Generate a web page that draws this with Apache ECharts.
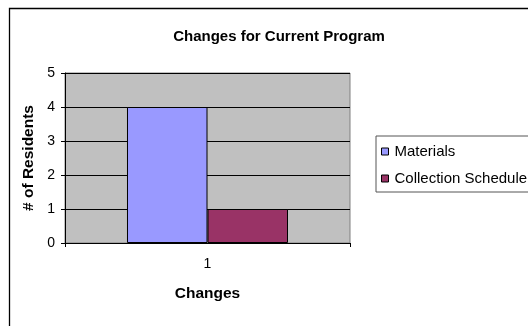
<!DOCTYPE html>
<html>
<head>
<meta charset="utf-8">
<style>
  html, body { margin: 0; padding: 0; background: #ffffff; }
  #chart { width: 528px; height: 326px; }
</style>
<script src="https://cdn.jsdelivr.net/npm/echarts@6/dist/echarts.min.js"></script>
</head>
<body>
<div id="chart"></div>
<script>
// Chart data
const categories = ['1'];
const seriesNames = ['Materials', 'Collection Schedule'];
const materialsValues = [4];
const collectionValues = [1];
const yTicks = { min: 0, max: 5, interval: 1 };

const FONT = '"Liberation Sans", Arial, sans-serif';

const chart = echarts.init(document.getElementById('chart'), null, { renderer: 'canvas' });

chart.setOption({
  animation: false,
  backgroundColor: '#ffffff',
  textStyle: { fontFamily: FONT, color: '#000' },
  graphic: [
    {
      // outer chart frame (runs off the right and bottom edges)
      type: 'rect',
      shape: { x: 9.5, y: 8.5, width: 560, height: 360 },
      style: { fill: 'none', stroke: '#000', lineWidth: 1.3 },
      z: -1
    }
  ],
  title: {
    text: 'Changes for Current Program',
    left: 274,
    top: 24,
    textAlign: 'center',
    textStyle: { fontFamily: FONT, fontSize: 15, fontWeight: 'bold', color: '#000' }
  },
  legend: {
    orient: 'vertical',
    left: 376,
    top: 136,
    padding: [7, 30, 5, 5],
    itemGap: 10,
    itemWidth: 7,
    itemHeight: 7,
    icon: 'rect',
    borderColor: '#555',
    borderWidth: 1,
    backgroundColor: '#fff',
    textStyle: { fontFamily: FONT, fontSize: 15, color: '#000', lineHeight: 17, padding: [0, 0, 0, 1] },
    itemStyle: { borderColor: '#000', borderWidth: 1 },
    data: seriesNames
  },
  grid: {
    left: 65,
    top: 73,
    right: 178,
    bottom: 83,
    show: true,
    backgroundColor: '#C0C0C0',
    borderColor: '#808080',
    borderWidth: 1
  },
  xAxis: {
    type: 'category',
    data: categories,
    name: 'Changes',
    nameLocation: 'middle',
    nameGap: 43,
    nameTextStyle: { fontFamily: FONT, fontSize: 15.5, fontWeight: 'bold', color: '#000' },
    axisLine: { show: true, lineStyle: { color: '#000', width: 1 } },
    axisTick: { show: true, length: 4, alignWithLabel: false, lineStyle: { color: '#000' } },
    axisLabel: { fontFamily: FONT, fontSize: 14, color: '#000', margin: 14 }
  },
  yAxis: {
    type: 'value',
    min: yTicks.min,
    max: yTicks.max,
    interval: yTicks.interval,
    name: '# of Residents',
    nameLocation: 'middle',
    nameGap: 26,
    nameRotate: 90,
    nameTextStyle: { fontFamily: FONT, fontSize: 15.5, fontWeight: 'bold', color: '#000' },
    axisLine: { show: true, lineStyle: { color: '#000', width: 1 } },
    axisTick: { show: true, length: 4, lineStyle: { color: '#000' } },
    axisLabel: { fontFamily: FONT, fontSize: 14, color: '#000', margin: 10 },
    splitLine: { show: true, lineStyle: { color: '#000', width: 1 } }
  },
  series: [
    {
      name: seriesNames[0],
      type: 'bar',
      data: materialsValues,
      barGap: '0%',
      barCategoryGap: '43.5%',
      itemStyle: { color: '#9999FF', borderColor: '#000', borderWidth: 1 }
    },
    {
      name: seriesNames[1],
      type: 'bar',
      data: collectionValues,
      barGap: '0%',
      barCategoryGap: '43.5%',
      itemStyle: { color: '#993366', borderColor: '#000', borderWidth: 1 }
    }
  ]
});
</script>
</body>
</html>
